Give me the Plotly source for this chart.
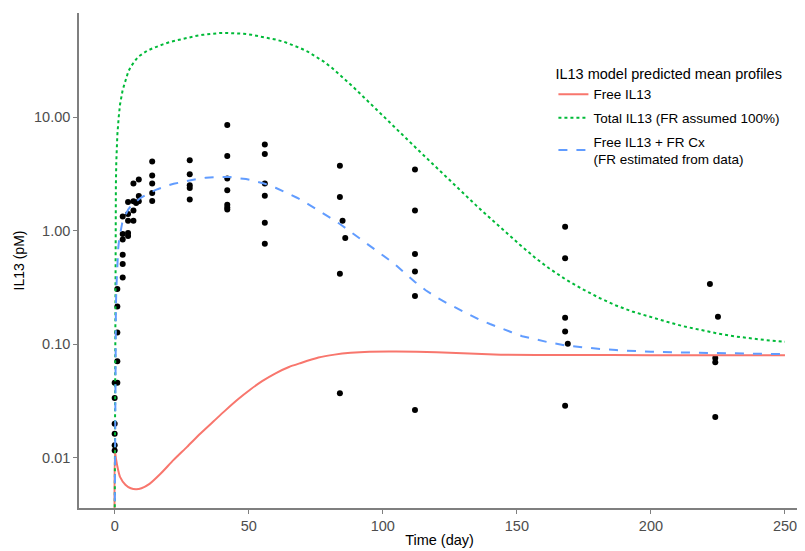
import plotly.graph_objects as go

# ---- model curves ----
free_t = [0, 0.05, 0.5, 1.3, 2, 4, 6, 8, 10, 13, 17, 22, 27, 32, 37, 41, 46, 50.5, 55, 60, 65, 69, 76, 82, 88,
          95, 105, 120, 144, 170, 200, 250]
free_v = [0.002, 0.0116, 0.0098, 0.0078, 0.0068, 0.0058, 0.0054, 0.0053, 0.0054, 0.0059, 0.0072, 0.0096, 0.0125,
          0.0164, 0.0211, 0.0258, 0.0328, 0.0398, 0.0474, 0.0556, 0.0632, 0.0680, 0.0765, 0.0812, 0.0843, 0.0862,
          0.0866, 0.0850, 0.0812, 0.0805, 0.0803, 0.080]

total_t = [0, 0.1, 0.2, 0.3, 0.45, 0.6, 0.8, 1, 1.5, 2, 3, 4, 5, 6, 7, 8, 9, 10, 12, 14, 16, 18, 21, 24, 27, 30,
           33, 36, 39, 42, 45, 48, 51, 54, 57, 60, 63, 66, 69, 72, 75, 78, 81, 85, 89, 93, 97, 100, 104, 107, 110,
           113, 116, 120, 124, 128, 131, 135, 139, 143, 147, 151, 157, 162, 168, 175, 181, 187, 193, 200, 206, 212,
           218, 225, 231, 237, 243, 250]
total_v = [0.002, 0.05, 0.3, 1, 2.5, 4, 5.5, 7, 10, 13, 17.5, 21.5, 25, 28, 30.5, 32.5, 34.5, 36, 38.5, 40.5, 42.5,
           44, 46.5, 48.5, 50.5, 52, 53.5, 54.5, 55.3, 55.5, 55.3, 54.6, 53.5, 52, 50, 48.5, 46.5, 44, 41, 38, 34.5,
           31.0, 27.4, 22.6, 18.5, 15.0, 12.2, 10.4, 8.4, 7.16, 6.11, 5.21, 4.45, 3.60, 2.91, 2.37, 2.03, 1.66,
           1.36, 1.117, 0.92, 0.759, 0.575, 0.468, 0.376, 0.302, 0.255, 0.220, 0.195, 0.173, 0.158, 0.1445, 0.134,
           0.1245, 0.1178, 0.1127, 0.1089, 0.1054]

cx_t = [0, 0.1, 0.2, 0.3, 0.45, 0.6, 0.8, 1, 1.3, 1.7, 2.2, 2.8, 3.5, 4.3, 5.1, 6, 7, 8, 9, 10, 12, 14, 16, 18, 20,
        22, 25, 28, 31, 34, 37, 40, 43, 46, 49, 52, 56, 60, 64, 68, 72, 76, 80, 84, 88, 92, 96, 100, 104, 108, 112,
        116, 120, 124, 128, 132, 136, 140, 144, 148, 152, 157, 162, 168, 175, 181, 187, 194, 200, 210, 218, 235, 250]
cx_v = [0.002, 0.02, 0.06, 0.11, 0.2, 0.3, 0.42, 0.53, 0.69, 0.85, 1.0, 1.17, 1.3, 1.43, 1.55, 1.65, 1.74, 1.82,
        1.9, 1.97, 2.1, 2.22, 2.33, 2.43, 2.52, 2.6, 2.7, 2.8, 2.88, 2.94, 2.98, 2.99, 2.98, 2.94, 2.86, 2.76, 2.6,
        2.4, 2.18, 1.96, 1.73, 1.52, 1.32, 1.15, 0.98, 0.84, 0.71, 0.6, 0.52, 0.43, 0.355, 0.3, 0.26, 0.23, 0.205,
        0.183, 0.165, 0.151, 0.14, 0.128, 0.118, 0.11, 0.104, 0.098, 0.094, 0.091, 0.089, 0.087, 0.086, 0.085,
        0.084, 0.083, 0.082]

# ---- observed data ----
obs_t = [0, 0, 0, 0, 0, 0,
         1, 1, 1, 1, 1,
         3, 3, 3, 3, 3, 3,
         5, 5, 5, 5, 5,
         7, 7, 7, 7,
         8,
         9, 9, 9,
         14, 14, 14, 14, 14,
         28, 28, 28, 28, 28,
         42, 42, 42, 42, 42, 42, 42,
         56, 56, 56, 56, 56, 56,
         84, 84, 84, 84, 85, 86,
         112, 112, 112, 112, 112, 112,
         168, 168, 168, 168, 168, 169,
         222, 225, 224, 224, 224]
obs_v = [0.0116, 0.0129, 0.0163, 0.020, 0.0337, 0.0458,
         0.0458, 0.071, 0.127, 0.216, 0.307,
         0.389, 0.51, 0.617, 0.838, 0.94, 1.34,
         0.90, 0.96, 1.23, 1.41, 1.80,
         1.23, 1.51, 1.82, 2.61,
         1.76,
         1.82, 2.03, 2.84,
         4.08, 3.08, 2.62, 2.16, 1.83,
         4.19, 3.15, 2.52, 2.39, 1.89,
         8.55, 4.58, 2.90, 2.28, 1.70, 1.61, 1.54,
         5.77, 4.77, 2.61, 2.04, 1.18, 0.77,
         3.74, 1.99, 0.419, 0.037, 1.23, 0.867,
         3.48, 1.51, 0.625, 0.439, 0.267, 0.0264,
         1.09, 0.573, 0.172, 0.130, 0.0288, 0.101,
         0.34, 0.175, 0.076, 0.0695, 0.0229]

y_ticks = [0.01, 0.1, 1, 10]
y_tick_text = ["0.01", "0.10", "1.00", "10.00"]
x_ticks = [0, 50, 100, 150, 200, 250]

FONT = "Liberation Sans, Arial, sans-serif"
AXIS_GREY = "#7f7f7f"

fig = go.Figure()
fig.add_trace(go.Scatter(x=obs_t, y=obs_v, mode="markers", showlegend=False,
                         marker=dict(color="black", size=6)))
fig.add_trace(go.Scatter(x=free_t, y=free_v, mode="lines", name="Free IL13", legendgroup="a",
                         line=dict(color="#F8766D", width=2, shape="spline", smoothing=0.6)))
fig.add_trace(go.Scatter(x=total_t, y=total_v, mode="lines", name="Total IL13 (FR assumed 100%)",
                         legendgroup="b", line=dict(color="#00BA38", width=2, dash="dot")))
fig.add_trace(go.Scatter(x=cx_t, y=cx_v, mode="lines", name="Free IL13 + FR Cx<br>(FR estimated from data)",
                         legendgroup="c", line=dict(color="#619CFF", width=2, dash="dash")))

# page body has an 8px margin, so the figure is shifted by 8px; compensate
fig.update_layout(
    width=797, height=543,
    margin=dict(l=71, r=5, t=5, b=43),
    plot_bgcolor="white", paper_bgcolor="white",
    font=dict(family=FONT, size=14, color="black"),
    legend=dict(
        title=dict(text="IL13 model predicted mean profiles", font=dict(size=14.5, color="black")),
        x=0.658, y=0.905, xanchor="left", yanchor="top",
        bgcolor="rgba(0,0,0,0)", font=dict(size=13.5, color="black"),
        itemwidth=30, tracegroupgap=3,
    ),
    xaxis=dict(
        title=dict(text="Time (day)", font=dict(size=14.5, color="black"), standoff=2),
        range=[-13.3, 255.6], tickvals=x_ticks, showgrid=False, zeroline=False,
        showline=True, linecolor=AXIS_GREY, linewidth=1.5,
        ticks="outside", ticklen=4, tickcolor=AXIS_GREY, tickwidth=1.2,
        tickfont=dict(size=14.5, color="#4D4D4D"),
    ),
    yaxis=dict(
        title=dict(text="IL13 (pM)", font=dict(size=14, color="black"), standoff=6),
        type="log", range=[-2.442, 1.92], tickvals=y_ticks, ticktext=y_tick_text,
        showgrid=False, zeroline=False,
        showline=True, linecolor=AXIS_GREY, linewidth=1.5,
        ticks="outside", ticklen=4, tickcolor=AXIS_GREY, tickwidth=1.2,
        tickfont=dict(size=14.5, color="#4D4D4D"),
    ),
)

fig.write_html("out.html")
